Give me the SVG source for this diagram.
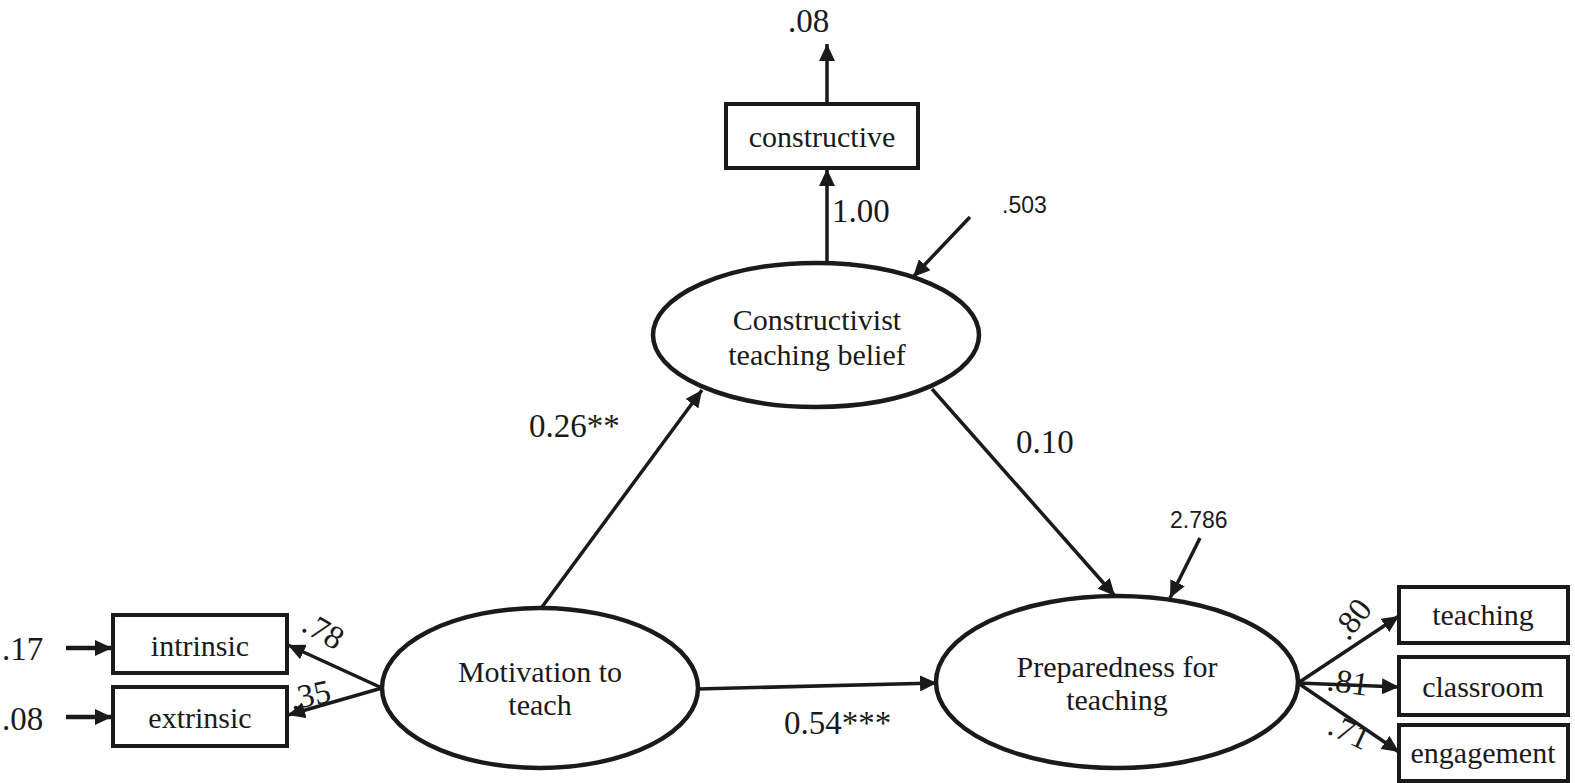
<svg xmlns="http://www.w3.org/2000/svg" width="1575" height="783" viewBox="0 0 1575 783">
<defs>
<marker id="ah" markerUnits="userSpaceOnUse" markerWidth="18" markerHeight="16" refX="17" refY="8" orient="auto">
<path d="M0,0 L17,8 L0,16 z" fill="#1a1a1a"/>
</marker>
</defs>
<style>
.ell{fill:#fff;stroke:#1a1a1a;stroke-width:4.5}
.box{fill:#fff;stroke:#1a1a1a;stroke-width:4}
.ln{stroke:#1a1a1a;stroke-width:3.5;fill:none;marker-end:url(#ah)}
.thick{stroke-width:4.5}
.t{font-family:"Liberation Serif","Times New Roman",serif;font-size:30px;fill:#1a1a1a;text-anchor:middle}
.n{font-family:"Liberation Serif","Times New Roman",serif;font-size:33px;fill:#1a1a1a}
.s{font-family:"Liberation Sans",Arial,sans-serif;font-size:23px;fill:#1a1a1a}
</style>
<rect width="1575" height="783" fill="#fff"/>
<g id="connectors">
<line class="ln" x1="827" y1="104" x2="827" y2="44"/>
<line class="ln" x1="827" y1="262" x2="827" y2="169"/>
<line class="ln" x1="970" y1="217" x2="913" y2="277"/>
<line class="ln" x1="542" y1="607" x2="702" y2="390"/>
<line class="ln" x1="932" y1="389" x2="1115" y2="596"/>
<line class="ln" x1="1200" y1="538" x2="1170" y2="598"/>
<line class="ln" x1="697" y1="689" x2="937" y2="683"/>
<line class="ln thick" x1="66" y1="648" x2="112" y2="648"/>
<line class="ln thick" x1="66" y1="717" x2="112" y2="717"/>
<line class="ln" x1="382" y1="688" x2="288" y2="645"/>
<line class="ln" x1="382" y1="688" x2="288" y2="715"/>
<line class="ln" x1="1298" y1="683" x2="1399" y2="616"/>
<line class="ln" x1="1298" y1="683" x2="1399" y2="687"/>
<line class="ln" x1="1298" y1="683" x2="1399" y2="752"/>
</g>
<g id="node-constructive">
<rect class="box" x="726" y="104" width="192" height="64"/>
<text class="t" x="822" y="147">constructive</text>
</g>
<g id="node-belief">
<ellipse class="ell" cx="816" cy="335" rx="163" ry="72"/>
<text class="t" x="817" y="330">Constructivist</text>
<text class="t" x="817" y="365">teaching belief</text>
</g>
<g id="node-motivation">
<ellipse class="ell" cx="540" cy="688" rx="158" ry="80"/>
<text class="t" x="540" y="682">Motivation to</text>
<text class="t" x="540" y="715">teach</text>
</g>
<g id="node-preparedness">
<ellipse class="ell" cx="1117" cy="682" rx="181" ry="86"/>
<text class="t" x="1117" y="677">Preparedness for</text>
<text class="t" x="1117" y="710">teaching</text>
</g>
<g id="node-intrinsic">
<rect class="box" x="113" y="615" width="174" height="58"/>
<text class="t" x="200" y="656">intrinsic</text>
</g>
<g id="node-extrinsic">
<rect class="box" x="113" y="687" width="174" height="59"/>
<text class="t" x="200" y="728">extrinsic</text>
</g>
<g id="node-teaching">
<rect class="box" x="1399" y="587" width="169" height="56"/>
<text class="t" x="1483" y="625">teaching</text>
</g>
<g id="node-classroom">
<rect class="box" x="1399" y="657" width="169" height="58"/>
<text class="t" x="1483" y="697">classroom</text>
</g>
<g id="node-engagement">
<rect class="box" x="1399" y="725" width="169" height="56"/>
<text class="t" x="1483" y="763">engagement</text>
</g>
<g id="labels">
<text class="n" x="788" y="32">.08</text>
<text class="n" x="832" y="222">1.00</text>
<text class="s" x="1002" y="213">.503</text>
<text class="n" x="529" y="437">0.26**</text>
<text class="n" x="1016" y="453">0.10</text>
<text class="s" x="1170" y="528">2.786</text>
<text class="n" x="784" y="734">0.54***</text>
<text class="n" x="2" y="660">.17</text>
<text class="n" x="2" y="730">.08</text>
<text class="n" transform="translate(300,630) rotate(30)">.78</text>
<text class="n" transform="translate(292,710) rotate(-12)">.35</text>
<text class="n" transform="translate(1348,642) rotate(-52)">.80</text>
<text class="n" transform="translate(1326,690) rotate(8)">.81</text>
<text class="n" transform="translate(1326,733) rotate(25)">.71</text>
</g>
</svg>
